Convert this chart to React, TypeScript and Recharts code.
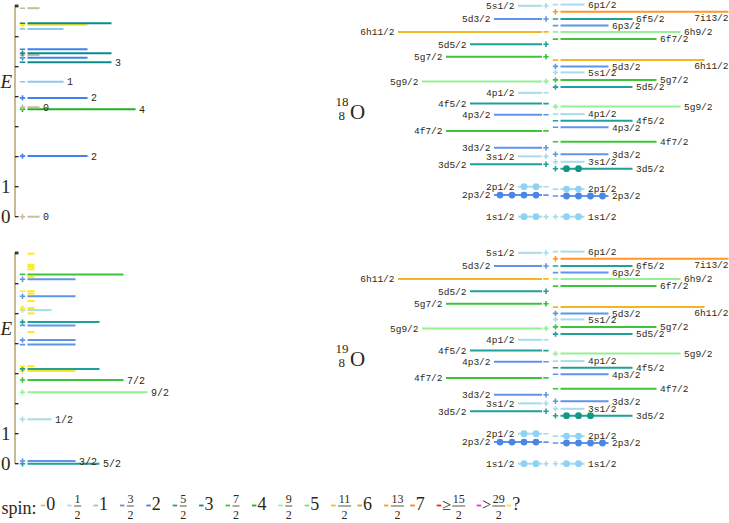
import React from 'react';
import { ComposedChart, XAxis, YAxis, ReferenceLine, Scatter } from 'recharts';

const INK = '#2e2914';
const SERIF = '"Liberation Serif", "DejaVu Serif", serif';
const MONO = '"Liberation Mono", "DejaVu Sans Mono", monospace';

// ---------- spin colour key ----------
const SPIN_KEYS = ['0', '1/2', '1', '3/2', '2', '5/2', '3', '7/2', '4', '9/2', '5', '11/2', '6', '13/2', '7', '≥15/2', '>29/2', '?'];
const SPIN_COLORS = [
  '#c6bd9b', '#a6dcec', '#8cc8f2', '#5f95e6', '#3f80f2', '#1fa09a', '#0a8c8c', '#3cc43a', '#22b01e',
  '#96f096', '#6ee46e', '#f2b526', '#d9a60a', '#ff9628', '#ff7a1a', '#ff2020', '#ff20ff', '#ffe81a',
];
const DOT_COLORS: Record<number, string> = { 1: '#8ed2f6', 3: '#4a86e6', 5: '#119885' };

// ---------- experimental levels (E in MeV, j2 = 2J, p = parity, q = uncertain spin, lab = labelled) ----------
type Level = { E: number; j2: number | null; p: '+' | '-' | null; q?: boolean; lab?: boolean };

const O18_LEVELS: Level[] = [
  { E: 0.0, j2: 0, p: '+', lab: true },
  { E: 2.02, j2: 4, p: '+', lab: true },
  { E: 3.58, j2: 8, p: '+', lab: true },
  { E: 3.65, j2: 0, p: '+', lab: true },
  { E: 3.96, j2: 4, p: '+', lab: true },
  { E: 4.5, j2: 2, p: '-', lab: true },
  { E: 5.15, j2: 6, p: '-', lab: true },
  { E: 5.3, j2: 4, p: '+' },
  { E: 5.39, j2: 0, p: '+' },
  { E: 5.45, j2: 6, p: '+' },
  { E: 5.58, j2: 4, p: '-' },
  { E: 6.26, j2: 2, p: '-' },
  { E: 6.4, j2: 4, p: '+', q: true },
  { E: 6.45, j2: 6, p: '-' },
  { E: 6.95, j2: 0, p: '-' },
];

const O19_LEVELS: Level[] = [
  { E: 0.0, j2: 5, p: '+', lab: true },
  { E: 0.09, j2: 3, p: '+', lab: true },
  { E: 1.48, j2: 1, p: '+', lab: true },
  { E: 2.38, j2: 9, p: '+', lab: true },
  { E: 2.79, j2: 7, p: '+', lab: true },
  { E: 3.09, j2: 3, p: '+', q: true },
  { E: 3.16, j2: 5, p: '+' },
  { E: 3.25, j2: null, p: '-' },
  { E: 3.97, j2: 3, p: '-' },
  { E: 4.12, j2: 3, p: '+' },
  { E: 4.39, j2: null, p: null },
  { E: 4.61, j2: 3, p: '-' },
  { E: 4.72, j2: 5, p: '+' },
  { E: 5.01, j2: null, p: null },
  { E: 5.12, j2: 1, p: '+' },
  { E: 5.19, j2: null, p: '+' },
  { E: 5.42, j2: null, p: null },
  { E: 5.58, j2: 3, p: '+' },
  { E: 5.67, j2: null, p: null },
  { E: 5.75, j2: null, p: '-' },
  { E: 6.15, j2: 3, p: '+' },
  { E: 6.22, j2: null, p: null },
  { E: 6.31, j2: 7, p: '-' },
  { E: 6.48, j2: null, p: null },
  { E: 6.56, j2: null, p: null },
  { E: 6.63, j2: null, p: null },
  { E: 7.0, j2: null, p: null },
];

// ---------- shell-model orbitals ----------
const PROTON_ORBITALS = ['1s1/2', '2p3/2', '2p1/2', '3d5/2', '3s1/2', '3d3/2', '4f7/2', '4p3/2', '4f5/2', '4p1/2', '5g9/2', '5g7/2', '5d5/2', '6h11/2', '5d3/2', '5s1/2'];
const PROTON_E = [0.0, 0.72, 1.0, 1.75, 2.01, 2.3, 2.86, 3.4, 3.77, 4.13, 4.51, 5.33, 5.75, 6.16, 6.59, 7.03];
const NEUTRON_ORBITALS = ['1s1/2', '2p3/2', '2p1/2', '3d5/2', '3s1/2', '3d3/2', '4f7/2', '4p3/2', '4f5/2', '4p1/2', '5g9/2', '5d5/2', '5g7/2', '5s1/2', '5d3/2', '6h11/2', '6f7/2', '6h9/2', '6p3/2', '6f5/2', '7i13/2', '6p1/2'];
const NEUTRON_E = [0.0, 0.69, 0.92, 1.6, 1.83, 2.08, 2.5, 2.98, 3.2, 3.42, 3.67, 4.32, 4.56, 4.81, 5.01, 5.22, 5.92, 6.16, 6.37, 6.59, 6.83, 7.07];
const PROTON_OCC = [2, 4, 2];
const O18_NEUTRON_OCC = [2, 4, 2, 2];
const O19_NEUTRON_OCC = [2, 4, 2, 3];

// ---------- layout constants ----------
const W = 729;
const SLOT = 12;
const LVL_MARK_X = 22.5;
const LVL_X0 = 27.5;
const UNKNOWN_LEN = 7;
const P_END = 542;
const P_MARK = 546;
const N_MARK = 555.5;
const N_START = 560.5;

function spinIndex(l: Level) {
  if (l.q || l.j2 === null) return 17;
  if (l.j2 > 29) return 16;
  if (l.j2 >= 15) return 15;
  return l.j2;
}

function parseOrb(name: string) {
  const m = /^(\d)([spdfghi])(\d+)\/2$/.exec(name)!;
  const l = 'spdfghi'.indexOf(m[2]);
  return { j2: parseInt(m[3], 10), p: (l % 2 === 0 ? '+' : '-') as '+' | '-' };
}

const MarkerShape = (props: any) => {
  const { cx, cy, payload } = props;
  if (cx == null || cy == null) return null;
  const h = 2.7;
  return (
    <g stroke={payload.color} strokeWidth={1.6}>
      <line x1={cx - h} x2={cx + h} y1={cy} y2={cy} />
      {payload.sign === '+' ? <line x1={cx} x2={cx} y1={cy - h} y2={cy + h} /> : null}
    </g>
  );
};

const DotShape = (props: any) => {
  const { cx, cy, payload } = props;
  if (cx == null || cy == null) return null;
  return <circle cx={cx} cy={cy} r={3.4} fill={payload.color} />;
};

const TextShape = (props: any) => {
  const { cx, cy, payload } = props;
  if (cx == null || cy == null) return null;
  const fs = payload.fs;
  const w = payload.text.length * 0.6 * fs;
  let x = payload.side === 'left' ? cx - 3.5 : cx + 3.5;
  let anchor = payload.side === 'left' ? 'end' : 'start';
  let y = cy;
  if (payload.side === 'right' && x + w > W) {
    x = W - 0.5;
    anchor = 'end';
    y = cy + 5.5;
  }
  return (
    <text x={x} y={y} dy="0.35em" textAnchor={anchor} fontFamily={MONO} fontSize={fs} fill={INK}>
      {payload.text}
    </text>
  );
};

const NuclideShape = (props: any) => {
  const { cx, cy, payload } = props;
  if (cx == null || cy == null) return null;
  return (
    <g fontFamily={SERIF} fill={INK}>
      <text x={cx - 1.5} y={cy - 13} textAnchor="end" fontSize={13}>{payload.mass}</text>
      <text x={cx - 5} y={cy + 1} textAnchor="end" fontSize={13}>{payload.z}</text>
      <text x={cx} y={cy} fontSize={21}>{payload.sym}</text>
    </g>
  );
};

const AxisTick = (props: any) => {
  const { x, y, payload } = props;
  const v = payload.value;
  if (v === 4.5) {
    return (
      <text x={x + 1.5} y={y} dy="0.35em" textAnchor="end" fontFamily={SERIF} fontStyle="italic" fontSize={19} fill={INK}>E</text>
    );
  }
  return (
    <text x={x} y={y} dy="0.34em" textAnchor="end" fontFamily={SERIF} fontSize={19} fill={INK}>{v}</text>
  );
};

type Seg = { x1: number; x2: number; y: number; color: string };

function Panel({ levels, neutronOcc, mass }: { levels: Level[]; neutronOcc: number[]; mass: string }) {
  const lines: Seg[] = [];
  const markers: any[] = [];
  const labels: any[] = [];
  const dots: any[] = [];

  levels.forEach((l) => {
    const color = SPIN_COLORS[spinIndex(l)];
    const len = l.j2 === null ? UNKNOWN_LEN : SLOT * (l.j2 + 1);
    lines.push({ x1: LVL_X0, x2: LVL_X0 + len, y: l.E, color });
    if (l.p) markers.push({ x: LVL_MARK_X, y: l.E, sign: l.p, color });
    if (l.lab && l.j2 !== null) labels.push({ x: LVL_X0 + len, y: l.E, text: SPIN_KEYS[l.j2], side: 'right', fs: 10 });
  });

  PROTON_ORBITALS.forEach((name, i) => {
    const { j2, p } = parseOrb(name);
    const color = SPIN_COLORS[j2];
    const E = PROTON_E[i];
    const x1 = P_END - SLOT * (j2 + 1);
    lines.push({ x1, x2: P_END, y: E, color });
    markers.push({ x: P_MARK, y: E, sign: p, color });
    labels.push({ x: x1, y: E, text: name, side: 'left', fs: 9.5 });
    const n = PROTON_OCC[i] || 0;
    for (let k = 0; k < n; k++) dots.push({ x: P_END - SLOT * (k + 0.5), y: E, color: DOT_COLORS[j2] || color });
  });

  NEUTRON_ORBITALS.forEach((name, i) => {
    const { j2, p } = parseOrb(name);
    const color = SPIN_COLORS[j2];
    const E = NEUTRON_E[i];
    const x2 = N_START + SLOT * (j2 + 1);
    lines.push({ x1: N_START, x2, y: E, color });
    markers.push({ x: N_MARK, y: E, sign: p, color });
    labels.push({ x: x2, y: E, text: name, side: 'right', fs: 9.5 });
    const n = neutronOcc[i] || 0;
    for (let k = 0; k < n; k++) dots.push({ x: N_START + SLOT * (k + 0.5), y: E, color: DOT_COLORS[j2] || color });
  });

  const axisTicks = [0, 1, 2, 3, 4, 5, 6, 7];

  return (
    <ComposedChart width={W} height={240} margin={{ top: 0.7, right: 0, bottom: 15.8, left: 0 }}>
      <XAxis type="number" dataKey="x" domain={[15, W]} hide allowDataOverflow />
      <YAxis
        type="number"
        dataKey="y"
        domain={[-0.25, 7.2]}
        width={15}
        ticks={[0, 1, 4.5]}
        interval={0}
        tick={<AxisTick />}
        tickLine={false}
        axisLine={false}
        tickSize={0}
        tickMargin={4.5}
        allowDataOverflow
      />
      <ReferenceLine segment={[{ x: 15, y: 0 }, { x: 15, y: 7.05 }]} stroke="#a8965c" strokeWidth={1.3} ifOverflow="visible" />
      {axisTicks.map((t) => (
        <ReferenceLine key={'t' + t} segment={[{ x: 15, y: t }, { x: 18.5, y: t }]} stroke="#111" strokeWidth={1.2} ifOverflow="visible" />
      ))}
      <ReferenceLine segment={[{ x: 15, y: 7.05 }, { x: 18.5, y: 7.05 }]} stroke="#111" strokeWidth={1.2} ifOverflow="visible" />
      {lines.map((s, i) => (
        <ReferenceLine key={'l' + i} segment={[{ x: s.x1, y: s.y }, { x: s.x2, y: s.y }]} stroke={s.color} strokeWidth={2} ifOverflow="visible" />
      ))}
      <Scatter data={markers} shape={MarkerShape} isAnimationActive={false} />
      <Scatter data={dots} shape={DotShape} isAnimationActive={false} />
      <Scatter data={labels} shape={TextShape} isAnimationActive={false} />
      <Scatter data={[{ x: 350, y: 3.26, mass, z: '8', sym: 'O' }]} shape={NuclideShape} isAnimationActive={false} />
    </ComposedChart>
  );
}

function LegendItem({ x, label, color }: { x: number; label: string; color: string }) {
  const sw = <line x1={x} x2={x + 4.5} y1={15.5} y2={15.5} stroke={color} strokeWidth={1.8} />;
  const m = /^([≥>]?)(\d+)\/(\d+)$/.exec(label);
  if (!m) {
    return (
      <g>
        {sw}
        <text x={x + 5.5} y={19.5} fontFamily={SERIF} fontSize={18} fill={INK}>{label}</text>
      </g>
    );
  }
  let fx = x + 7;
  if (m[1]) fx += 8.5;
  const fw = m[2].length * 6 + 1;
  return (
    <g fontFamily={SERIF} fill={INK}>
      {sw}
      {m[1] ? <text x={x + 5.5} y={19.5} fontSize={16}>{m[1]}</text> : null}
      <text x={fx + fw / 2} y={13} textAnchor="middle" fontSize={12}>{m[2]}</text>
      <line x1={fx} x2={fx + fw} y1={16} y2={16} stroke={INK} strokeWidth={0.8} />
      <text x={fx + fw / 2} y={28.5} textAnchor="middle" fontSize={12}>{m[3]}</text>
    </g>
  );
}

function SpinLegend() {
  let x = 40.7;
  const items = SPIN_KEYS.map((key, i) => {
    const el = <LegendItem key={key} x={x} label={key} color={SPIN_COLORS[i]} />;
    x += key.startsWith('≥') ? 40 : key.startsWith('>') ? 30 : 26.4;
    return el;
  });
  return (
    <svg width={W} height={33} style={{ position: 'absolute', left: 0, top: 490 }}>
      <text x={1.5} y={24} fontFamily={SERIF} fontSize={18} fill={INK}>spin:</text>
      {items}
    </svg>
  );
}

export default function App() {
  return (
    <div style={{ position: 'absolute', left: 0, top: 0, width: W, height: 523, background: '#fff', overflow: 'hidden' }}>
      <div style={{ position: 'absolute', left: 0, top: 0 }}>
        <Panel levels={O18_LEVELS} neutronOcc={O18_NEUTRON_OCC} mass="18" />
      </div>
      <div style={{ position: 'absolute', left: 0, top: 247 }}>
        <Panel levels={O19_LEVELS} neutronOcc={O19_NEUTRON_OCC} mass="19" />
      </div>
      <SpinLegend />
    </div>
  );
}
